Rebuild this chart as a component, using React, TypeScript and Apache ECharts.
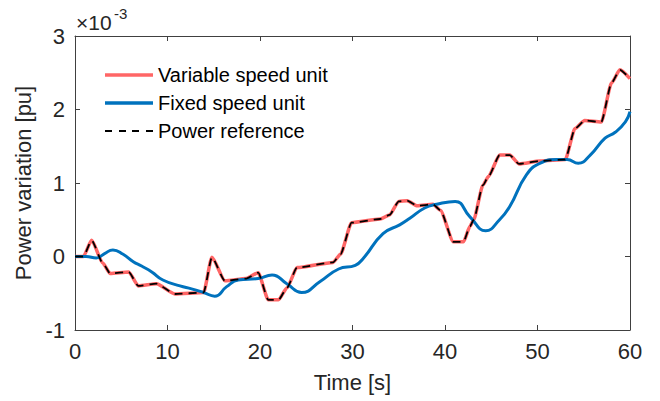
import React, { useEffect, useRef } from "react";
import * as echarts from "echarts";

// Values in units of 1e-3 pu
const refTime = [0, 0.9, 1.8, 3.0, 3.8, 5.8, 6.85, 8.8, 10.8, 13.9, 14.8, 16.2, 18.5, 19.8, 20.9, 22.0, 22.9, 24.0, 27.9, 28.7, 29.9, 33.0, 34.0, 35.0, 35.9, 37.0, 38.7, 39.5, 40.9, 42.0, 42.7, 43.1, 44.1, 44.7, 45.9, 47.0, 48.0, 50.3, 53.0, 54.05, 55.1, 56.9, 58.0, 58.9, 60];
const refValues = [0, 0, 0.22, -0.09, -0.23, -0.21, -0.40, -0.37, -0.51, -0.49, -0.01, -0.33, -0.30, -0.22, -0.59, -0.59, -0.43, -0.15, -0.08, 0.03, 0.46, 0.51, 0.565, 0.75, 0.76, 0.69, 0.71, 0.63, 0.20, 0.20, 0.41, 0.50, 0.97, 1.09, 1.38, 1.38, 1.26, 1.30, 1.32, 1.74, 1.85, 1.83, 2.36, 2.54, 2.42];

const varTime = refTime;
const varValues = refValues;

const fixedTime = [0, 1.2, 2.3, 3.2, 4.1, 5.2, 6.3, 7.2, 8.3, 9.5, 11.35, 12.6, 13.9, 15.1, 16.4, 17.65, 19.8, 21.3, 22.9, 24.5, 26.5, 28.5, 30.3, 31.2, 33.3, 35.1, 36.2, 37.8, 39.1, 41.1, 42.7, 44.4, 45.9, 47.0, 48.8, 50.3, 52.1, 53.2, 54.4, 55.7, 57.3, 58.4, 59.5, 60];
const fixedValues = [0, 0, -0.02, 0.04, 0.09, 0.03, -0.07, -0.13, -0.21, -0.32, -0.40, -0.44, -0.49, -0.54, -0.41, -0.32, -0.30, -0.25, -0.37, -0.49, -0.34, -0.17, -0.12, -0.02, 0.31, 0.43, 0.52, 0.66, 0.71, 0.75, 0.54, 0.35, 0.50, 0.68, 1.11, 1.27, 1.32, 1.32, 1.27, 1.38, 1.61, 1.69, 1.83, 1.97];

const seriesNames = ["Variable speed unit", "Fixed speed unit", "Power reference"];
const xTitle = "Time [s]";
const yTitle = "Power variation [pu]";
const scaleMain = "×10";
const scaleExp = "-3";

const zip = (t: number[], v: number[]) => t.map((x, i) => [x, v[i]]);

const FONT = "Liberation Sans, Arial, Helvetica, sans-serif";
const AX = "#404040";
const TXT = "#262626";

const ICON_SOLID = "path://M0,0H48V3.5H0Z";
const ICON_DASH = "path://M0,0H7V2H0Z M14,0H21V2H14Z M27,0H34V2H27Z M41,0H48V2H41Z";

export default function App() {
  const ref = useRef<HTMLDivElement>(null);
  useEffect(() => {
    if (!ref.current) return;
    const chart = echarts.init(ref.current, null, { renderer: "svg" });
    const axisCommon = {
      axisLine: { show: true, onZero: false, lineStyle: { color: AX, width: 1 } },
      axisTick: { show: true, inside: true, length: 5, lineStyle: { color: AX } },
      splitLine: { show: false },
    };
    chart.setOption({
      animation: false,
      backgroundColor: "#ffffff",
      textStyle: { fontFamily: FONT },
      grid: { left: 75, top: 36, width: 555, height: 294, containLabel: false },
      legend: {
        orient: "vertical",
        left: 100,
        top: 60,
        itemWidth: 48,
        itemHeight: 3.5,
        itemGap: 8,
        data: [
          { name: seriesNames[0], icon: ICON_SOLID },
          { name: seriesNames[1], icon: ICON_SOLID },
          { name: seriesNames[2], icon: ICON_DASH },
        ],
        textStyle: { fontSize: 20, color: "#000", fontFamily: FONT },
      },
      xAxis: [
        {
          type: "value",
          min: 0,
          max: 60,
          interval: 10,
          position: "bottom",
          ...axisCommon,
          axisLabel: { fontSize: 22, color: TXT, margin: 10, fontFamily: FONT },
          name: xTitle,
          nameLocation: "middle",
          nameGap: 41,
          nameTextStyle: { fontSize: 22, color: TXT, fontFamily: FONT },
        },
        {
          type: "value",
          min: 0,
          max: 60,
          interval: 10,
          position: "top",
          ...axisCommon,
          axisLabel: { show: false },
        },
      ],
      yAxis: [
        {
          type: "value",
          min: -1,
          max: 3,
          interval: 1,
          position: "left",
          ...axisCommon,
          axisLabel: { fontSize: 22, color: TXT, margin: 10, fontFamily: FONT },
          name: yTitle,
          nameLocation: "middle",
          nameGap: 41,
          nameTextStyle: { fontSize: 22, color: TXT, fontFamily: FONT },
        },
        {
          type: "value",
          min: -1,
          max: 3,
          interval: 1,
          position: "right",
          ...axisCommon,
          axisLabel: { show: false },
        },
      ],
      graphic: [
        {
          type: "text",
          left: 76,
          top: 12,
          style: { text: scaleMain, fontSize: 21, fill: TXT, fontFamily: FONT },
        },
        {
          type: "text",
          left: 114,
          top: 6,
          style: { text: scaleExp, fontSize: 15, fill: TXT, fontFamily: FONT },
        },
      ],
      series: [
        {
          name: seriesNames[0],
          type: "line",
          data: zip(varTime, varValues),
          symbol: "none",
          smooth: 0.2,
          smoothMonotone: "x",
          lineStyle: { color: "#FF6666", width: 3.5 },
          itemStyle: { color: "#FF6666" },
          z: 2,
        },
        {
          name: seriesNames[1],
          type: "line",
          data: zip(fixedTime, fixedValues),
          symbol: "none",
          smooth: 0.5,
          lineStyle: { color: "#0072BD", width: 3 },
          itemStyle: { color: "#0072BD" },
          z: 3,
        },
        {
          name: seriesNames[2],
          type: "line",
          data: zip(refTime, refValues),
          symbol: "none",
          smooth: 0.2,
          smoothMonotone: "x",
          lineStyle: { color: "#000000", width: 1.8, type: [8, 6] },
          itemStyle: { color: "#000000" },
          z: 4,
        },
      ],
    });
    return () => chart.dispose();
  }, []);
  return (
    <div
      ref={ref}
      style={{ position: "fixed", left: 0, top: 0, width: 660, height: 401, background: "#fff" }}
    />
  );
}
